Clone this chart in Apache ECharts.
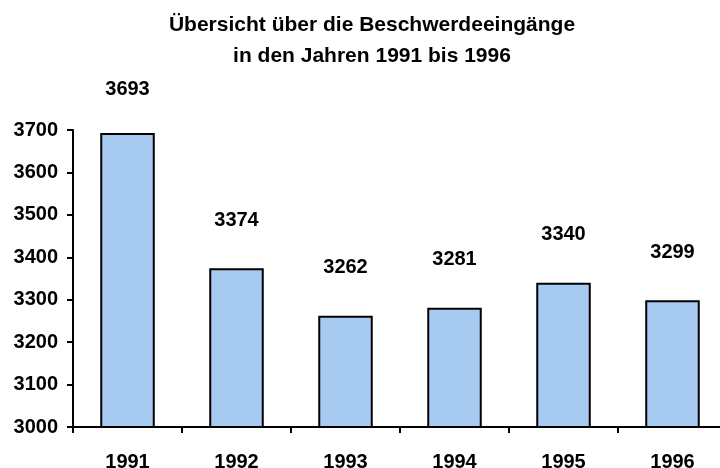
<!DOCTYPE html>
<html>
<head>
<meta charset="utf-8">
<script src="https://cdn.jsdelivr.net/npm/echarts@6/dist/echarts.min.js"></script>
<style>
  html, body { margin: 0; padding: 0; background: #fff; }
  #chart { width: 720px; height: 468px; }
</style>
</head>
<body>
<div id="chart"></div>
<script>
const years = ['1991', '1992', '1993', '1994', '1995', '1996'];
const complaints = [3693, 3374, 3262, 3281, 3340, 3299];

const chart = echarts.init(document.getElementById('chart'));
const font = 'Liberation Sans, Arial, sans-serif';

chart.setOption({
  animation: false,
  title: {
    text: 'Übersicht über die Beschwerdeeingänge\nin den Jahren 1991 bis 1996',
    left: 367,
    textAlign: 'center',
    top: 5,
    textStyle: {
      fontFamily: font,
      fontSize: 21,
      fontWeight: 'bold',
      color: '#000',
      lineHeight: 31
    }
  },
  grid: {
    left: 73,
    right: -7,
    top: 130,
    bottom: 41,
    outerBoundsMode: 'none'
  },
  xAxis: {
    type: 'category',
    data: years,
    axisLine: { lineStyle: { color: '#000', width: 2 } },
    axisTick: { show: true, length: 6, lineStyle: { color: '#000', width: 2 } },
    axisLabel: {
      margin: 25,
      color: '#000',
      fontFamily: font,
      fontSize: 20,
      fontWeight: 'bold'
    }
  },
  yAxis: {
    type: 'value',
    min: 3000,
    max: 3700,
    interval: 100,
    splitLine: { show: false },
    axisLine: { show: true, lineStyle: { color: '#000', width: 2 } },
    axisTick: { show: true, length: 6, lineStyle: { color: '#000', width: 2 } },
    axisLabel: {
      margin: 15,
      color: '#000',
      fontFamily: font,
      fontSize: 20,
      fontWeight: 'bold',
      formatter: v => String(v)
    }
  },
  series: [
    {
      type: 'bar',
      barWidth: '50%',
      data: complaints.map((v, i) => ({
        value: v,
        label: i === 0 ? { distance: 33 } : undefined
      })),
      itemStyle: {
        color: '#a7caf0',
        borderColor: '#000',
        borderWidth: 2
      },
      label: {
        show: true,
        position: 'top',
        distance: 38,
        color: '#000',
        fontFamily: font,
        fontSize: 20,
        fontWeight: 'bold'
      }
    }
  ]
});
</script>
</body>
</html>
